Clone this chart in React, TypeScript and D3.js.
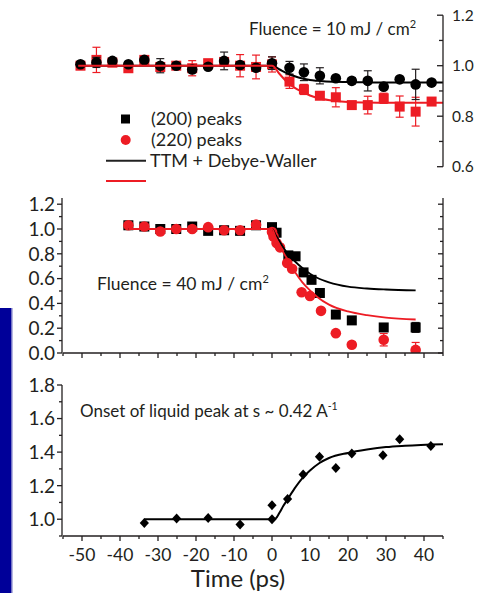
import React from "react";
import * as d3 from "d3";

// top panel: 10 mJ/cm2
const topTimes = [-50.4, -46.2, -42, -37.8, -33.6, -29.4, -25.2, -21, -16.8, -12.6, -8.4, -4.2, 0, 4.6, 8.4, 12.6, 16.8, 21, 25.2, 29.4, 33.6, 37.8, 42];
const top200 = [1.006, 1.013, 1.019, 1.006, 1.023, 1.0, 1.0, 0.985, 0.996, 1.019, 1.003, 0.992, 1.01, 0.992, 0.974, 0.96, 0.95, 0.94, 0.94, 0.917, 0.946, 0.926, 0.933];
const top200Err = [0.01, 0.02, 0.01, 0.01, 0.01, 0.028, 0.01, 0.012, 0.01, 0.035, 0.012, 0.01, 0.025, 0.025, 0.033, 0.032, 0.01, 0.012, 0.04, 0.01, 0.01, 0.06, 0.01];
const top220 = [1.0, 1.023, 1.012, 0.99, 1.023, 0.995, 1.0, 0.99, 1.01, 1.015, 1.0, 0.995, 1.005, 0.937, 0.906, 0.881, 0.875, 0.844, 0.844, 0.871, 0.838, 0.818, 0.858];
const top220Err = [0.01, 0.05, 0.01, 0.01, 0.01, 0.015, 0.01, 0.03, 0.01, 0.01, 0.044, 0.047, 0.03, 0.027, 0.02, 0.01, 0.038, 0.01, 0.035, 0.02, 0.042, 0.057, 0.01];
const topFitTimes = [-51, 0, 2, 4, 6, 8, 10, 12, 16, 20, 25, 30, 45];
const topFit200 = [1.0, 1.0, 0.985, 0.97, 0.958, 0.949, 0.943, 0.94, 0.936, 0.935, 0.934, 0.933, 0.933];
const topFit220 = [1.0, 1.0, 0.967, 0.935, 0.912, 0.896, 0.882, 0.872, 0.862, 0.856, 0.854, 0.853, 0.853];

// middle panel: 40 mJ/cm2
const mid200Times = [-37.8, -33.6, -29.4, -25.2, -21, -16.8, -12.6, -8.4, -4.2, 0, 1.2, 4.3, 6.2, 8.3, 10.4, 12.6, 16.8, 21, 29.4, 37.8];
const mid200 = [1.03, 1.02, 1.0, 1.0, 1.02, 0.985, 0.99, 0.985, 1.03, 1.015, 0.97, 0.787, 0.78, 0.65, 0.59, 0.484, 0.31, 0.263, 0.206, 0.206];
const mid200Err = [0, 0, 0, 0, 0.015, 0, 0, 0, 0, 0.02, 0, 0, 0, 0, 0.02, 0, 0, 0, 0, 0.04];
const mid220Times = [-37.8, -33.6, -29.4, -25.2, -21, -16.8, -12.6, -8.4, -4.2, 0, 0.4, 1.2, 2.1, 4.0, 5.3, 7.8, 10.0, 12.9, 16.8, 21, 29.4, 37.8];
const mid220 = [1.03, 1.02, 0.98, 1.0, 1.0, 1.015, 0.99, 0.99, 1.035, 0.976, 0.94, 0.887, 0.852, 0.726, 0.68, 0.49, 0.46, 0.34, 0.16, 0.067, 0.107, 0.025];
const mid220Err = [0, 0, 0, 0, 0, 0, 0, 0, 0, 0, 0, 0, 0, 0, 0, 0, 0, 0, 0, 0.02, 0.05, 0.06];
const midFitTimes = [-37.8, 0, 1, 2, 3, 4, 6, 8, 10, 12, 15, 20, 25, 30, 37.8];
const midFit200 = [1.0, 1.0, 0.95, 0.9, 0.85, 0.805, 0.74, 0.685, 0.64, 0.605, 0.57, 0.535, 0.52, 0.512, 0.505];
const midFit220 = [1.0, 1.0, 0.93, 0.87, 0.81, 0.76, 0.655, 0.57, 0.505, 0.45, 0.39, 0.335, 0.305, 0.285, 0.27];

// bottom panel: liquid peak
const liqTimes = [-33.6, -25.1, -16.8, -8.4, 0, 0, 4.1, 8.2, 12.5, 16.8, 21, 29.2, 33.6, 41.8];
const liqValues = [0.978, 1.004, 1.008, 0.968, 1.0, 1.084, 1.12, 1.267, 1.372, 1.306, 1.392, 1.382, 1.476, 1.437];
const liqFitTimes = [-33.6, 0, 1, 2, 3, 4, 6, 8, 10, 12.5, 15, 20, 25, 30, 35, 45];
const liqFit = [1.0, 1.0, 1.005, 1.04, 1.08, 1.115, 1.185, 1.245, 1.29, 1.335, 1.365, 1.395, 1.415, 1.43, 1.438, 1.447];

const xTicks = [-50, -40, -30, -20, -10, 0, 10, 20, 30, 40];
const xMinor = [-55, -45, -35, -25, -15, -5, 5, 15, 25, 35, 45];

const RED = "#ed1c24";
const INK = "#231f20";
const FONT = "Lato, 'Open Sans', sans-serif";

const x = d3.scaleLinear().domain([-55, 45]).range([63, 443]);
const yTop = d3.scaleLinear().domain([0.6, 1.2]).range([166.7, 15.2]);
const yMid = d3.scaleLinear().domain([0, 1.25]).range([353, 198]);
const yBot = d3.scaleLinear().domain([0.9, 1.8]).range([536, 385]);

const zip = (ts: number[], vs: number[]) => ts.map((t, i) => ({ t, v: vs[i] }));

const fitPath = (y: d3.ScaleLinear<number, number>, ts: number[], vs: number[]) =>
  d3
    .line<{ t: number; v: number }>()
    .x(d => x(d.t))
    .y(d => y(d.v))
    .curve(d3.curveMonotoneX)(zip(ts, vs)) || "";

const ErrBars = ({ y, ts, vs, es, color, w = 1 }) => (
  <g stroke={color} strokeWidth={w} fill="none">
    {ts.map((t, i) =>
      es[i] > 0 ? (
        <g key={i}>
          <line x1={x(t)} x2={x(t)} y1={y(vs[i] - es[i])} y2={y(vs[i] + es[i])} />
          <line x1={x(t) - 4} x2={x(t) + 4} y1={y(vs[i] - es[i])} y2={y(vs[i] - es[i])} />
          <line x1={x(t) - 4} x2={x(t) + 4} y1={y(vs[i] + es[i])} y2={y(vs[i] + es[i])} />
        </g>
      ) : null
    )}
  </g>
);

// vertical axis, ticks always point left of the line
const VAxis = ({ y, at, major, minor, labels, fontSize }) => (
  <g stroke={INK} strokeWidth={1.3}>
    <line x1={at} x2={at} y1={y.range()[0]} y2={y.range()[1]} />
    {major.map(v => (
      <line key={"M" + v} x1={at} x2={at - 5} y1={y(v)} y2={y(v)} />
    ))}
    {minor.map(v => (
      <line key={"m" + v} x1={at} x2={at - 3} y1={y(v)} y2={y(v)} />
    ))}
    {labels &&
      major.map(v => (
        <text
          key={"t" + v}
          x={at - 7}
          y={y(v)}
          dy="0.36em"
          textAnchor="end"
          fontSize={fontSize}
          fontFamily={FONT}
          fill={INK}
          stroke="none"
        >
          {d3.format(".1f")(v)}
        </text>
      ))}
  </g>
);

const HAxis = ({ at, labels }) => (
  <g stroke={INK} strokeWidth={1.3}>
    <line x1={x.range()[0]} x2={x.range()[1]} y1={at} y2={at} />
    {xTicks.map(t => (
      <line key={"M" + t} x1={x(t)} x2={x(t)} y1={at} y2={at + 5} />
    ))}
    {xMinor.map(t => (
      <line key={"m" + t} x1={x(t)} x2={x(t)} y1={at} y2={at + 3} />
    ))}
    {labels &&
      xTicks.map(t => (
        <text key={"t" + t} x={x(t)} y={at + 25} textAnchor="middle" fontSize={17.5} fontFamily={FONT} fill={INK} stroke="none">
          {t}
        </text>
      ))}
  </g>
);

const diamond = "M0,-5L4.6,0L0,5L-4.6,0Z";

export default function App() {
  const txt = { fontFamily: FONT, fill: INK };
  return (
    <svg width={483} height={593} style={{ position: "absolute", left: 0, top: 0, background: "#fff" }}>
      <defs>
        <clipPath id="midClip">
          <rect x={0} y={0} width={483} height={yMid(0)} />
        </clipPath>
      </defs>

      {/* blue side bar */}
      <rect x={0} y={308} width={11} height={285} fill="#000099" />
      <rect x={11} y={308} width={1.5} height={285} fill="#7373c4" />

      {/* ---- top panel ---- */}
      <ErrBars y={yTop} ts={topTimes} vs={top220} es={top220Err} color={RED} w={1.2} />
      {topTimes.map((t, i) => (
        <rect key={"ts" + i} x={x(t) - 5} y={yTop(top220[i]) - 5} width={10} height={10} fill={RED} />
      ))}
      <ErrBars y={yTop} ts={topTimes} vs={top200} es={top200Err} color={INK} w={1.2} />
      {topTimes.map((t, i) => (
        <circle key={"tc" + i} cx={x(t)} cy={yTop(top200[i])} r={5.3} fill="#000" />
      ))}
      <path d={fitPath(yTop, topFitTimes, topFit200)} fill="none" stroke="#000" strokeWidth={2} />
      <path d={fitPath(yTop, topFitTimes, topFit220)} fill="none" stroke={RED} strokeWidth={2} />
      <g stroke={INK} strokeWidth={1.3}>
        <line x1={443} x2={443} y1={yTop(0.6)} y2={yTop(1.2)} />
        {[0.6, 0.8, 1.0, 1.2].map(v => (
          <line key={v} x1={443} x2={437} y1={yTop(v)} y2={yTop(v)} />
        ))}
        {[0.7, 0.9, 1.1].map(v => (
          <line key={v} x1={443} x2={439} y1={yTop(v)} y2={yTop(v)} />
        ))}
      </g>
      {[0.6, 0.8, 1.0, 1.2].map(v => (
        <text key={v} x={452} y={yTop(v)} dy="0.36em" fontSize={15.5} {...txt}>
          {d3.format(".1f")(v)}
        </text>
      ))}
      <text x={249} y={35} fontSize={17} {...txt}>
        Fluence = 10 mJ / cm
        <tspan fontSize={11} dy={-7}>2</tspan>
      </text>

      {/* legend */}
      <rect x={121} y={114.5} width={9} height={9} fill="#000" />
      <circle cx={125.7} cy={140} r={5} fill={RED} />
      <line x1={106} x2={146} y1={160.7} y2={160.7} stroke="#222" strokeWidth={2} />
      <line x1={106} x2={146} y1={181} y2={181} stroke={RED} strokeWidth={2} />
      <text x={151} y={125} fontSize={18} {...txt}>(200) peaks</text>
      <text x={151} y={146} fontSize={18} {...txt}>(220) peaks</text>
      <text x={150} y={167} fontSize={18} {...txt}>TTM + Debye-Waller</text>

      {/* ---- middle panel ---- */}
      <g clipPath="url(#midClip)">
        <ErrBars y={yMid} ts={mid200Times} vs={mid200} es={mid200Err} color={INK} w={1.2} />
        {mid200Times.map((t, i) => (
          <rect key={"ms" + i} x={x(t) - 5} y={yMid(mid200[i]) - 5} width={10} height={10} fill="#000" />
        ))}
        <ErrBars y={yMid} ts={mid220Times} vs={mid220} es={mid220Err} color={RED} w={1.2} />
        {mid220Times.map((t, i) => (
          <circle key={"mc" + i} cx={x(t)} cy={yMid(mid220[i])} r={5.3} fill={RED} />
        ))}
        <path d={fitPath(yMid, midFitTimes, midFit200)} fill="none" stroke="#000" strokeWidth={1.8} />
        <path d={fitPath(yMid, midFitTimes, midFit220)} fill="none" stroke={RED} strokeWidth={1.8} />
      </g>
      <VAxis
        y={yMid}
        at={62}
        major={[0, 0.2, 0.4, 0.6, 0.8, 1.0, 1.2]}
        minor={[0.1, 0.3, 0.5, 0.7, 0.9, 1.1]}
        labels
        fontSize={19}
      />
      <VAxis
        y={yMid}
        at={443}
        major={[0, 0.2, 0.4, 0.6, 0.8, 1.0, 1.2]}
        minor={[0.1, 0.3, 0.5, 0.7, 0.9, 1.1]}
        labels={false}
        fontSize={19}
      />
      <HAxis at={yMid(0)} labels={false} />
      <text x={97} y={290} fontSize={17.5} {...txt}>
        Fluence = 40 mJ / cm
        <tspan fontSize={11} dy={-7}>2</tspan>
      </text>

      {/* ---- bottom panel ---- */}
      <path d={fitPath(yBot, liqFitTimes, liqFit)} fill="none" stroke="#000" strokeWidth={2} />
      {liqTimes.map((t, i) => (
        <path key={"d" + i} d={diamond} transform={`translate(${x(t)},${yBot(liqValues[i])})`} fill="#000" />
      ))}
      <VAxis
        y={yBot}
        at={62}
        major={[1.0, 1.2, 1.4, 1.6, 1.8]}
        minor={[0.9, 1.1, 1.3, 1.5, 1.7]}
        labels
        fontSize={19}
      />
      <HAxis at={yBot(0.9)} labels />
      <text x={80} y={417} fontSize={17} {...txt}>
        Onset of liquid peak at s ~ 0.42 A
        <tspan fontSize={10.5} dy={-7}>-1</tspan>
      </text>
      <text x={238} y={587} textAnchor="middle" fontSize={24} {...txt}>
        Time (ps)
      </text>
    </svg>
  );
}
